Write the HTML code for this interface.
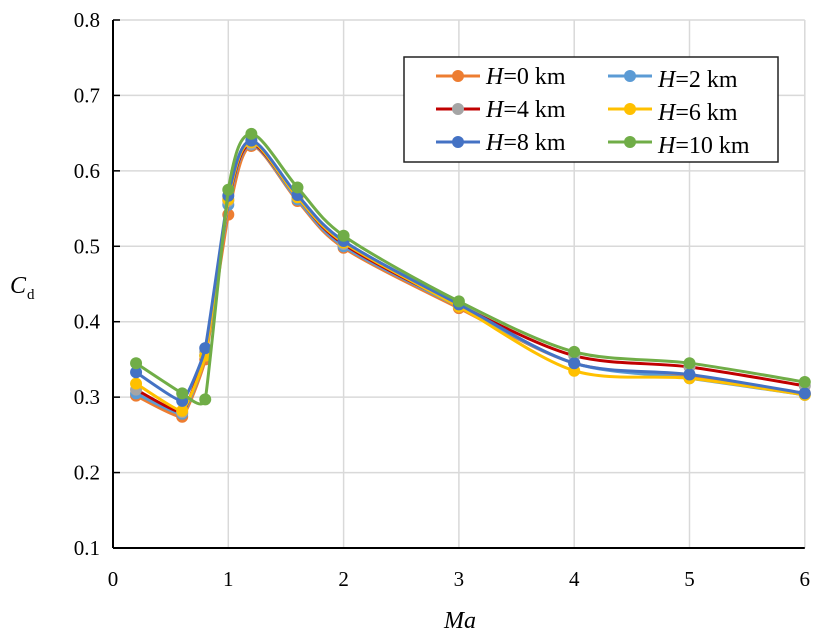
<!DOCTYPE html>
<html><head><style>
html,body{margin:0;padding:0;background:#fff;}
svg text{font-family:"Liberation Serif",serif;}
</style></head><body>
<svg id="s" width="818" height="634" xmlns="http://www.w3.org/2000/svg"></svg>
<script>
const s=document.getElementById('s');
const X=m=>113+115.3*m, Y=v=>548-(v-0.1)*754.3;
let h='';
for(let i=1;i<=6;i++)h+=`<line x1="${X(i)}" y1="20" x2="${X(i)}" y2="548" stroke="#d9d9d9" stroke-width="1.5"/>`;
for(let k=2;k<=8;k++)h+=`<line x1="113" y1="${Y(k/10)}" x2="${X(6)}" y2="${Y(k/10)}" stroke="#d9d9d9" stroke-width="1.5"/>`;
h+=`<line x1="113" y1="20" x2="113" y2="548" stroke="#000" stroke-width="2"/><line x1="113" y1="548" x2="${X(6)}" y2="548" stroke="#000" stroke-width="2"/>`;
for(let k=1;k<=8;k++){h+=`<line x1="113" y1="${Y(k/10)}" x2="120" y2="${Y(k/10)}" stroke="#000" stroke-width="1.5"/><text x="100" y="${Y(k/10)+7}" font-size="21" text-anchor="end">${(k/10).toFixed(1)}</text>`;}
for(let i=0;i<=6;i++)h+=`<text x="${X(i)}" y="586" font-size="21" text-anchor="middle">${i}</text>`;
h+=`<text x="460" y="628" font-size="24" font-style="italic" text-anchor="middle">Ma</text>`;
h+=`<text x="10" y="293" font-size="24" font-style="italic">C</text><text x="27" y="299" font-size="15">d</text>`;
const M=[0.2,0.6,0.8,1.0,1.2,1.6,2,3,4,5,6];
const S=[
['#ed7d31','#ed7d31',[.302,.274,.35,.542,.633,.56,.498,.418,.345,.327,.305]],
['#5b9bd5','#5b9bd5',[.305,.278,.355,.555,.635,.562,.5,.42,.345,.325,.303]],
['#c00000','#a5a5a5',[.31,.28,.36,.56,.636,.565,.503,.422,.355,.34,.315]],
['#ffc000','#ffc000',[.318,.282,.355,.562,.638,.565,.505,.42,.335,.325,.303]],
['#4472c4','#4472c4',[.333,.295,.365,.567,.64,.568,.507,.423,.345,.33,.305]],
['#70ad47','#70ad47',[.345,.305,.297,.575,.649,.578,.514,.427,.36,.345,.32]]];
S.forEach(([lc,mc,d])=>{
 const P=M.map((m,i)=>[X(m),Y(d[i])]);
 let p=`M${P[0]}`;
 for(let i=0;i<P.length-1;i++){const a=P[Math.max(i-1,0)],b=P[i],c=P[i+1],e=P[Math.min(i+2,P.length-1)];const t=(i<=2)?0.06:0.15;
 p+=` C${b[0]+(c[0]-a[0])*t},${b[1]+(c[1]-a[1])*t} ${c[0]-(e[0]-b[0])*t},${c[1]-(e[1]-b[1])*t} ${c[0]},${c[1]}`;}
 h+=`<path d="${p}" fill="none" stroke="${lc}" stroke-width="3"/>`;
 P.forEach(q=>h+=`<circle cx="${q[0]}" cy="${q[1]}" r="6" fill="${mc}"/>`);
});
h+=`<rect x="404" y="57" width="374" height="105" fill="#fff" stroke="#222" stroke-width="1.5"/>`;
const L=['0','2','4','6','8','10'];
S.forEach(([lc,mc],i)=>{const cx=i%2?610:438, cy=76+Math.floor(i/2)*33;
 h+=`<line x1="${cx-2}" y1="${cy}" x2="${cx+42}" y2="${cy}" stroke="${lc}" stroke-width="3"/><circle cx="${cx+20}" cy="${cy}" r="6" fill="${mc}"/>`;
 h+=`<text x="${cx+48}" y="${cy+8+(i%2?3:0)}" font-size="24"><tspan font-style="italic">H</tspan>=${L[i]} km</text>`;});
s.innerHTML=h;
</script>
</body></html>
